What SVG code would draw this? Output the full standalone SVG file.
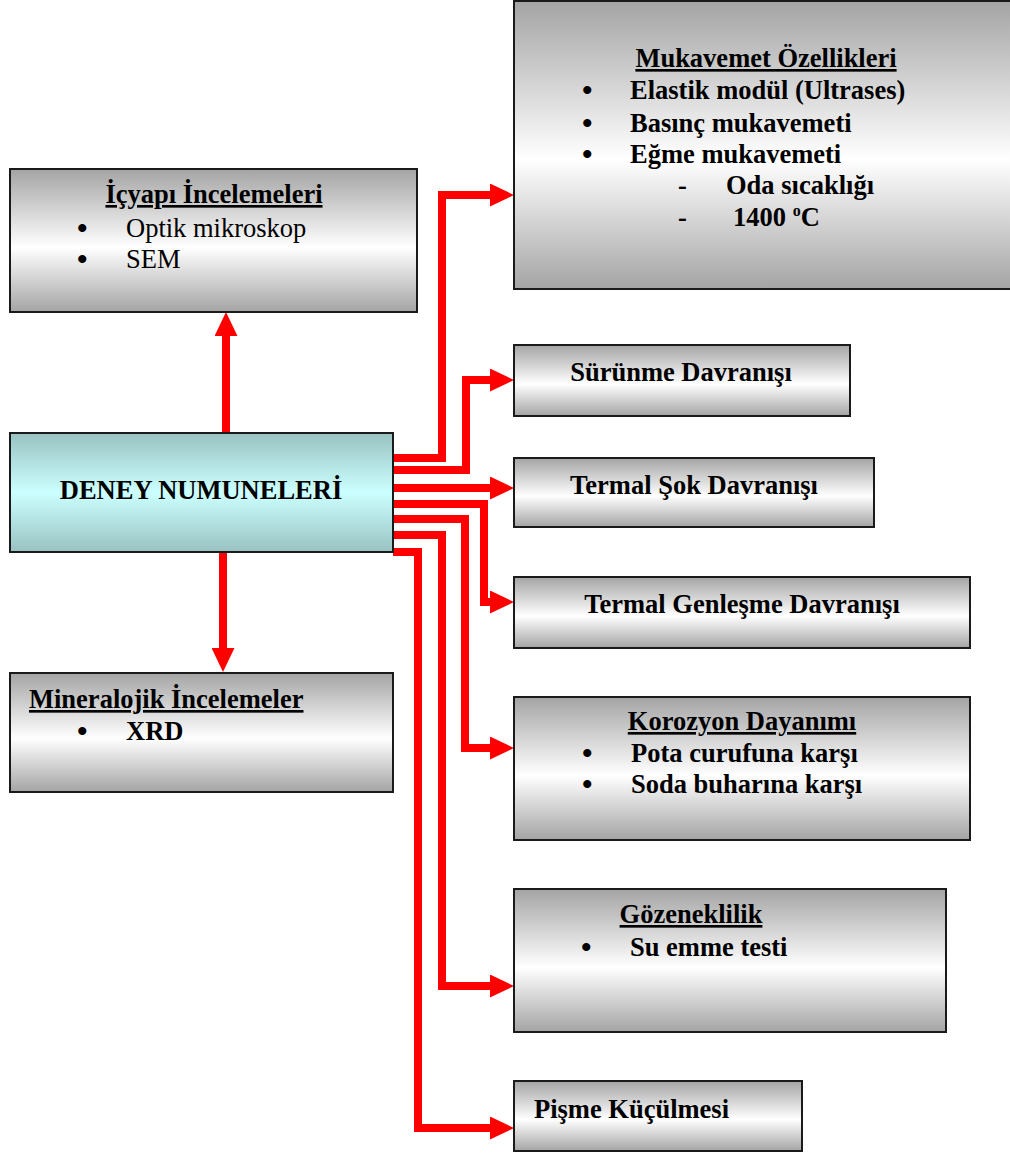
<svg xmlns="http://www.w3.org/2000/svg" width="1010" height="1153" viewBox="0 0 1010 1153">
<defs>
<linearGradient id="gGray" x1="0" y1="0" x2="0" y2="1">
<stop offset="0" stop-color="#a4a4a4"/>
<stop offset="0.55" stop-color="#ffffff"/>
<stop offset="1" stop-color="#a4a4a4"/>
</linearGradient>
<linearGradient id="gTeal" x1="0" y1="0" x2="0" y2="1">
<stop offset="0" stop-color="#99c2c2"/>
<stop offset="0.5" stop-color="#ccffff"/>
<stop offset="1" stop-color="#99c2c2"/>
</linearGradient>
<marker id="ah" viewBox="0 0 24 23" markerUnits="userSpaceOnUse" markerWidth="24" markerHeight="23" refX="0" refY="11.5" orient="auto">
<polygon points="0,0 24,11.5 0,23" fill="#ff0000"/>
</marker>
<style>
.box{fill:url(#gGray);stroke:#1a1a1a;stroke-width:2}
.main{fill:url(#gTeal);stroke:#1a1a1a;stroke-width:2}
text{font-family:"Liberation Serif","Times New Roman",serif;font-size:26.5px;fill:#000}
.b{font-weight:bold}
.u{text-decoration:underline}
.m{text-anchor:middle}
.bl{font-weight:bold;font-size:30px}
.c{fill:none;stroke:#ff0000;stroke-width:8;stroke-linejoin:miter;marker-end:url(#ah)}
</style>
</defs>

<g id="connectors">
<path class="c" d="M226,432 V336"/>
<path class="c" d="M223,552 V648"/>
<path class="c" d="M393,458 H442 V195 H490"/>
<path class="c" d="M393,470 H466 V380 H490"/>
<path class="c" d="M393,488 H490"/>
<path class="c" d="M393,504 H484 V602 H490"/>
<path class="c" d="M393,519 H465 V748 H490"/>
<path class="c" d="M393,535 H442 V986 H490"/>
<path class="c" d="M393,552 H418 V1128 H490"/>
</g>

<g id="icyapi">
<rect class="box" x="10" y="169" width="407" height="143"/>
<text class="b u m" x="214" y="203">İçyapı İncelemeleri</text>
<text class="bl" x="77" y="238">•</text><text x="126" y="237">Optik mikroskop</text>
<text class="bl" x="77" y="269">•</text><text x="126" y="268">SEM</text>
</g>

<g id="mukavemet">
<rect class="box" x="514" y="1" width="500" height="288"/>
<text class="b u m" x="766" y="67">Mukavemet Özellikleri</text>
<text class="bl" x="582" y="100">•</text><text class="b" x="630" y="99">Elastik modül (Ultrases)</text>
<text class="bl" x="582" y="133">•</text><text class="b" x="630" y="132">Basınç mukavemeti</text>
<text class="bl" x="582" y="164">•</text><text class="b" x="630" y="163">Eğme mukavemeti</text>
<text class="b" x="678" y="194">-</text><text class="b" x="726" y="194">Oda sıcaklığı</text>
<text class="b" x="678" y="226">-</text><text class="b" x="733" y="226">1400 <tspan dy="-10" font-size="16">o</tspan><tspan dy="10">C</tspan></text>
</g>

<g id="deney">
<rect class="main" x="10" y="433" width="383" height="119"/>
<text class="b m" x="201" y="499">DENEY NUMUNELERİ</text>
</g>

<g id="mineralojik">
<rect class="box" x="10" y="673" width="383" height="119"/>
<text class="b u" x="29" y="708">Mineralojik İncelemeler</text>
<text class="bl" x="77" y="741">•</text><text class="b" x="126" y="740">XRD</text>
</g>

<g id="surunme">
<rect class="box" x="514" y="345" width="336" height="71"/>
<text class="b m" x="681" y="381">Sürünme Davranışı</text>
</g>

<g id="termalsok">
<rect class="box" x="514" y="458" width="360" height="69"/>
<text class="b m" x="694" y="494">Termal Şok Davranışı</text>
</g>

<g id="genlesme">
<rect class="box" x="514" y="577" width="456" height="71"/>
<text class="b m" x="742" y="613">Termal Genleşme Davranışı</text>
</g>

<g id="korozyon">
<rect class="box" x="514" y="697" width="456" height="143"/>
<text class="b u m" x="742" y="730">Korozyon Dayanımı</text>
<text class="bl" x="582" y="763">•</text><text class="b" x="631" y="762">Pota curufuna karşı</text>
<text class="bl" x="582" y="794">•</text><text class="b" x="631" y="793">Soda buharına karşı</text>
</g>

<g id="gozeneklilik">
<rect class="box" x="514" y="889" width="432" height="143"/>
<text class="b u m" x="691" y="923">Gözeneklilik</text>
<text class="bl" x="581" y="957">•</text><text class="b" x="630" y="956">Su emme testi</text>
</g>

<g id="pisme">
<rect class="box" x="514" y="1081" width="288" height="70"/>
<text class="b" x="534" y="1118">Pişme Küçülmesi</text>
</g>
</svg>
